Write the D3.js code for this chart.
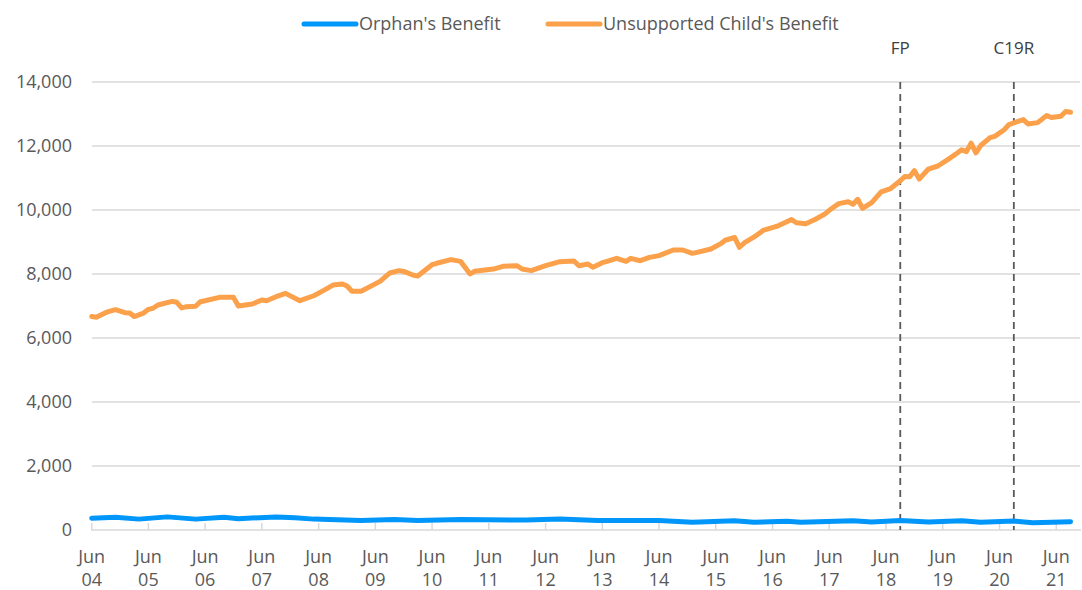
<html>
<head>
<script src="https://d3js.org/d3.v7.min.js"></script>
<style>
  body { margin: 0; background: #fff; }
  text { font-family: "Open Sans", sans-serif; fill: #595959; }
</style>
</head>
<body>
<svg id="chart" width="1082" height="590"></svg>
<script>
// Unsupported Child's Benefit (orange)
var ucbMonths = ["2004-06","2004-07","2004-09","2004-11","2005-01","2005-02","2005-03","2005-05","2005-06","2005-07",
  "2005-08","2005-11","2005-12","2006-01","2006-02","2006-04","2006-05","2006-06","2006-09","2006-12",
  "2007-01","2007-04","2007-06","2007-07","2007-09","2007-11","2008-02","2008-05","2008-07","2008-09",
  "2008-11","2008-12","2009-01","2009-03","2009-07","2009-09","2009-11","2009-12","2010-02","2010-03",
  "2010-06","2010-07","2010-10","2010-12","2011-02","2011-03","2011-07","2011-09","2011-12","2012-01",
  "2012-03","2012-06","2012-09","2012-12","2013-01","2013-03","2013-04","2013-06","2013-07","2013-09",
  "2013-11","2013-12","2014-02","2014-04","2014-06","2014-09","2014-11","2015-01","2015-02","2015-05",
  "2015-07","2015-08","2015-10","2015-11","2015-12","2016-02","2016-04","2016-07","2016-10","2016-11",
  "2017-01","2017-03","2017-05","2017-06","2017-08","2017-10","2017-11","2017-12","2018-01","2018-03",
  "2018-05","2018-07","2018-09","2018-10","2018-11","2018-12","2019-01","2019-03","2019-05","2019-07",
  "2019-09","2019-10","2019-11","2019-12","2020-01","2020-02","2020-04","2020-05","2020-07","2020-08",
  "2020-11","2020-12","2021-02","2021-04","2021-05","2021-07","2021-08","2021-09"];
var ucbValues = [6670,6650,6800,6885,6790,6780,6670,6780,6895,6930,
  7030,7145,7115,6940,6980,6990,7135,7165,7270,7270,
  7000,7060,7190,7165,7290,7395,7165,7320,7480,7655,
  7690,7625,7460,7460,7770,8030,8105,8080,7960,7940,
  8290,8335,8450,8395,8000,8085,8155,8240,8260,8155,
  8105,8260,8385,8405,8260,8310,8210,8355,8395,8490,
  8395,8490,8415,8520,8575,8750,8750,8645,8677,8780,
  8940,9055,9140,8835,8970,9150,9360,9495,9705,9600,
  9570,9705,9865,9990,10200,10260,10180,10335,10050,10230,
  10565,10670,10915,11050,11040,11230,10965,11280,11375,11565,
  11775,11880,11825,12090,11785,12015,12260,12300,12510,12670,
  12825,12690,12730,12950,12890,12930,13080,13055];

// Orphan's Benefit (blue)
var obMonths = ["2004-06","2004-11","2005-04","2005-10","2006-04","2006-10","2007-01","2007-09","2008-01","2008-05",
  "2009-03","2009-10","2010-03","2010-12","2012-02","2012-09","2013-05","2014-06","2015-01","2015-10",
  "2016-02","2016-09","2016-12","2017-11","2018-03","2018-09","2019-03","2019-10","2020-02","2020-09",
  "2021-01","2021-09"];
var obValues = [370,400,340,410,340,400,355,410,380,340,
  300,330,300,330,310,340,300,300,245,290,
  245,270,240,290,250,300,250,290,240,280,
  230,260];

var seriesNames = ["Orphan's Benefit", "Unsupported Child's Benefit"];
var seriesColors = ["#0096fa", "#fba04b"];

var yTicks = [0, 2000, 4000, 6000, 8000, 10000, 12000, 14000];
var xTickMonths = ["2004-06","2005-06","2006-06","2007-06","2008-06","2009-06","2010-06","2011-06","2012-06",
  "2013-06","2014-06","2015-06","2016-06","2017-06","2018-06","2019-06","2020-06","2021-06"];

var eventMonths = ["2018-09", "2020-09"];
var eventLabels = ["FP", "C19R"];

var parse = d3.timeParse("%Y-%m");

var svg = d3.select("#chart");

var x = d3.scaleTime()
  .domain([parse("2004-06"), parse("2021-11")])
  .range([91.7, 1080]);

var y = d3.scaleLinear()
  .domain([0, 14000])
  .range([530, 82]);

// gridlines
svg.append("g")
  .selectAll("line")
  .data(yTicks.slice(1))
  .enter()
  .append("line")
    .attr("x1", 92)
    .attr("x2", 1080)
    .attr("y1", function(d){ return y(d); })
    .attr("y2", function(d){ return y(d); })
    .style("stroke", "#d9d9d9")
    .style("stroke-width", 1.5);

// y labels
svg.append("g")
  .selectAll("text")
  .data(yTicks)
  .enter()
  .append("text")
    .attr("x", 72)
    .attr("y", function(d){ return y(d); })
    .attr("dy", "0.35em")
    .attr("text-anchor", "end")
    .style("font-size", "18px")
    .text(function(d){ return d3.format(",")(d); });

// x axis line and ticks
svg.append("line")
  .attr("x1", 91).attr("x2", 1081)
  .attr("y1", 530).attr("y2", 530)
  .style("stroke", "#d9d9d9")
  .style("stroke-width", 1.5);

var xt = svg.append("g")
  .selectAll("g")
  .data(xTickMonths)
  .enter()
  .append("g")
    .attr("transform", function(d){ return "translate(" + x(parse(d)) + ",0)"; });

xt.append("line")
  .attr("y1", 523).attr("y2", 530)
  .style("stroke", "#d9d9d9")
  .style("stroke-width", 1.5);

xt.append("text")
  .attr("y", 563)
  .attr("text-anchor", "middle")
  .style("font-size", "18px")
  .text("Jun");

xt.append("text")
  .attr("y", 586)
  .attr("text-anchor", "middle")
  .style("font-size", "18px")
  .text(function(d){ return d.slice(2, 4); });

// event markers
var ev = svg.append("g")
  .selectAll("g")
  .data(eventMonths)
  .enter()
  .append("g")
    .attr("transform", function(d){ return "translate(" + x(parse(d)) + ",0)"; });

ev.append("line")
  .attr("y1", y(14000)).attr("y2", y(0))
  .style("stroke", "#595959")
  .style("stroke-width", 1.8)
  .style("stroke-dasharray", "7,5");

ev.append("text")
  .attr("y", 54)
  .attr("text-anchor", "middle")
  .style("font-size", "17px")
  .style("fill", "#404040")
  .text(function(d, i){ return eventLabels[i]; });

// lines
var line = d3.line()
  .x(function(d){ return x(d.date); })
  .y(function(d){ return y(d.value); });

var obData = obMonths.map(function(m, i){ return {date: parse(m), value: obValues[i]}; });
var ucbData = ucbMonths.map(function(m, i){ return {date: parse(m), value: ucbValues[i]}; });

[obData, ucbData].forEach(function(data, i){
  svg.append("path")
    .datum(data)
    .attr("d", line)
    .style("fill", "none")
    .style("stroke", seriesColors[i])
    .style("stroke-width", 5)
    .style("stroke-linejoin", "round")
    .style("stroke-linecap", "round");
});

// legend
var legX = [302, 546];
var leg = svg.append("g")
  .selectAll("g")
  .data(seriesNames)
  .enter()
  .append("g")
    .attr("transform", function(d, i){ return "translate(" + legX[i] + ",24)"; });

leg.append("line")
  .attr("x1", 2).attr("x2", 54)
  .style("stroke", function(d, i){ return seriesColors[i]; })
  .style("stroke-width", 5)
  .style("stroke-linecap", "round");

leg.append("text")
  .attr("x", 57)
  .attr("dy", "0.35em")
  .style("font-size", "18px")
  .text(function(d){ return d; });
</script>
</body>
</html>
